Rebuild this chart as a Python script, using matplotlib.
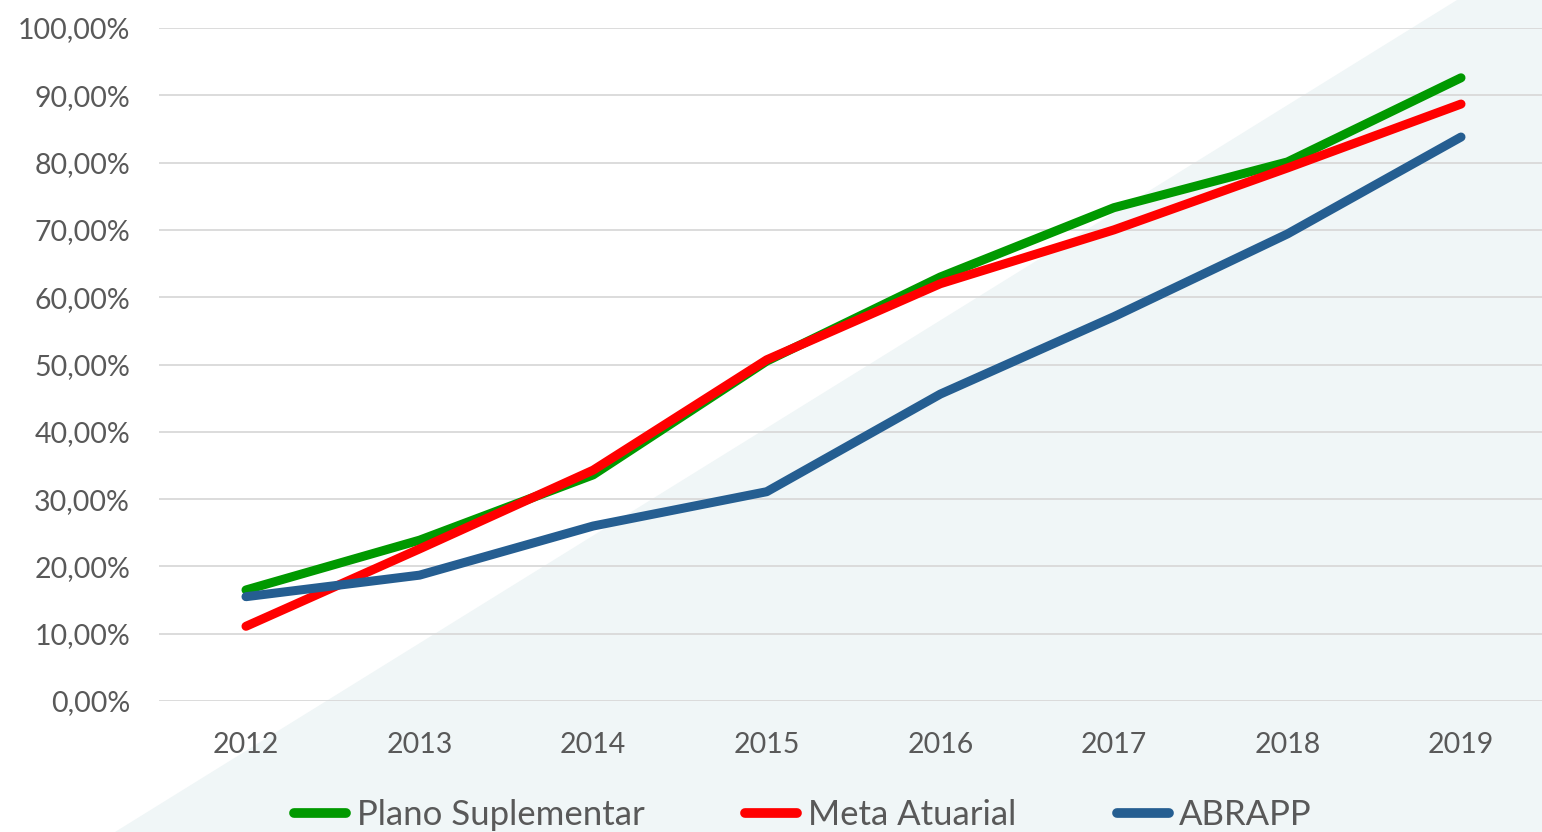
import matplotlib
matplotlib.use("Agg")
import matplotlib.pyplot as plt
from matplotlib.patches import Polygon
from matplotlib.ticker import FuncFormatter, MultipleLocator

plt.rcParams['font.family'] = ['Lato', 'DejaVu Sans']

anos = ['2012', '2013', '2014', '2015', '2016', '2017', '2018', '2019']
plano_suplementar = [16.5, 23.9, 33.6, 50.5, 63.0, 73.3, 80.1, 92.6]
meta_atuarial = [11.1, 22.6, 34.3, 50.7, 62.0, 70.0, 79.2, 88.7]
abrapp = [15.5, 18.7, 26.0, 31.1, 45.6, 57.1, 69.4, 83.8]

W, H = 1542, 832
fig = plt.figure(figsize=(W / 100, H / 100), dpi=100)

# light diagonal background shape, behind everything
bg = Polygon([(115 / W, 0), (1457 / W, 1), (1, 1), (1, 0)], closed=True,
             transform=fig.transFigure, facecolor='#f0f6f7', edgecolor='none', zorder=-10)
fig.patches.append(bg)

ax = fig.add_axes([159.2 / W, (H - 701) / H, 1388.6 / W, 673 / H])
ax.set_facecolor('none')

x = range(len(anos))
ax.plot(x, plano_suplementar, color='#009900', lw=6.5, solid_capstyle='round',
        solid_joinstyle='round', label='Plano Suplementar', zorder=3)
ax.plot(x, meta_atuarial, color='#ff0000', lw=6.5, solid_capstyle='round',
        solid_joinstyle='round', label='Meta Atuarial', zorder=4)
ax.plot(x, abrapp, color='#255e91', lw=6.5, solid_capstyle='round',
        solid_joinstyle='round', label='ABRAPP', zorder=5)

ax.set_xlim(-0.5, len(anos) - 0.5)
ax.set_ylim(0, 100)
ax.set_xticks(list(x))
ax.set_xticklabels(anos)
ax.yaxis.set_major_locator(MultipleLocator(10))
ax.yaxis.set_major_formatter(FuncFormatter(lambda v, p: f"{v:.2f}%".replace('.', ',')))

ax.grid(axis='y', color='#d9d9d9', lw=1.3, zorder=1)
ax.set_axisbelow(True)
for s in ax.spines.values():
    s.set_visible(False)
ax.tick_params(axis='both', length=0, labelsize=20.5, labelcolor='#595959')
ax.tick_params(axis='x', pad=22)
ax.tick_params(axis='y', pad=21)

leg = fig.legend(loc='center', bbox_to_anchor=(803 / W, 1 - 815 / H), ncol=3,
                 frameon=False, fontsize=25, handlelength=1.5, handletextpad=0.3,
                 columnspacing=2.9, labelcolor='#595959')
for h in leg.get_lines():
    h.set_linewidth(7)
    h.set_solid_capstyle('round')

fig.savefig('out.png', dpi=100)
